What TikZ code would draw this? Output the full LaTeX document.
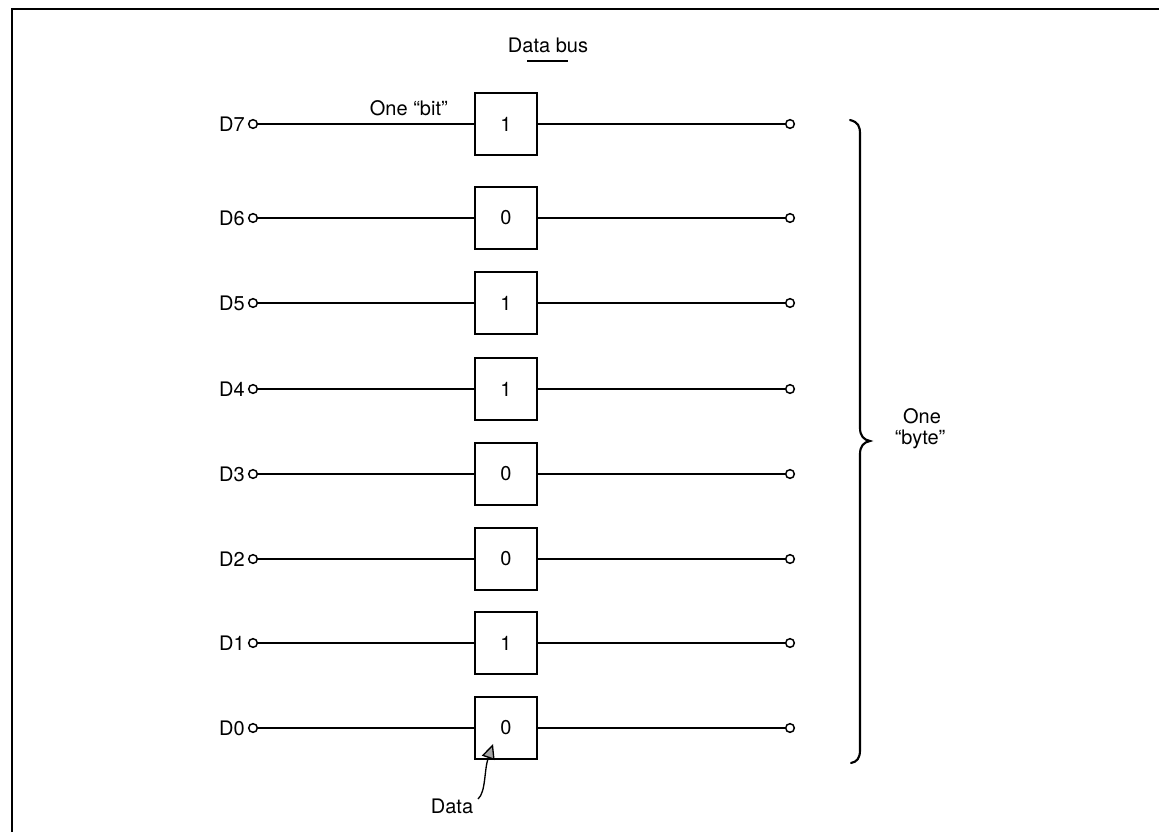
\documentclass[tikz,border=0pt]{standalone}
\usepackage{fontspec}
\setmainfont{TeX Gyre Heros}
\usetikzlibrary{arrows.meta}
\begin{document}
\begin{tikzpicture}[x=0.75pt,y=-0.75pt,
  every node/.style={font=\fontsize{15}{17}\selectfont, inner sep=0pt},
  wire/.style={line width=1.1pt},
  bitbox/.style={draw, line width=1.1pt, minimum width=46.5pt, minimum height=46.5pt},
  term/.style={circle, draw, line width=1.1pt, minimum size=6.5pt},
  lab/.style={anchor=east}]
\useasboundingbox (0,0) rectangle (1159,832);
\draw[line width=1.6pt] (12,832) -- (12,9) -- (1159,9);
\node (title) at (548,45) {Data bus};
\coordinate (ulA) at (527,61);
\coordinate (ulB) at (568,61);
\draw[line width=0.9pt] (ulA) -- (ulB);
\foreach \n/\y/\v in {7/124/1,6/218/0,5/303/1,4/389/1,3/474/0,2/559/0,1/643/1,0/728/0}{
  \node[term] (L\n) at (253,\y) {};
  \node[lab] (T\n) at (245,\y) {D\n};
  \node[bitbox] (B\n) at (506,\y) {\v};
  \node[term] (R\n) at (790,\y) {};
  \draw[wire] (L\n) -- (B\n);
  \draw[wire] (B\n) -- (R\n);
}
\node[anchor=south east] (bit) at (448,116) {One ``bit''};
\coordinate (br1) at (850,120);
\coordinate (br2) at (870,441);
\coordinate (br3) at (851,763);
\draw[line width=1.6pt, line cap=round] (br1) .. controls (858,122) and (860,126) .. (860,134)
  -- (860,428) .. controls (860,436) and (864,440) .. (br2)
  .. controls (864,442) and (860,446) .. (860,454)
  -- (860,750) .. controls (860,758) and (857,762) .. (br3);
\node (one) at (922,416) {One};
\node (byte) at (920,439) {``byte''};
\node (data) at (452,806) {Data};
\coordinate (tip) at (493,744);
\coordinate (dstart) at (478,799);
\draw[line width=1pt, -{Triangle[length=11pt,width=10pt,fill=gray!70,line width=1pt]}]
  (dstart) .. controls (486,792) and (484,770) .. (tip);
\end{tikzpicture}
\end{document}
